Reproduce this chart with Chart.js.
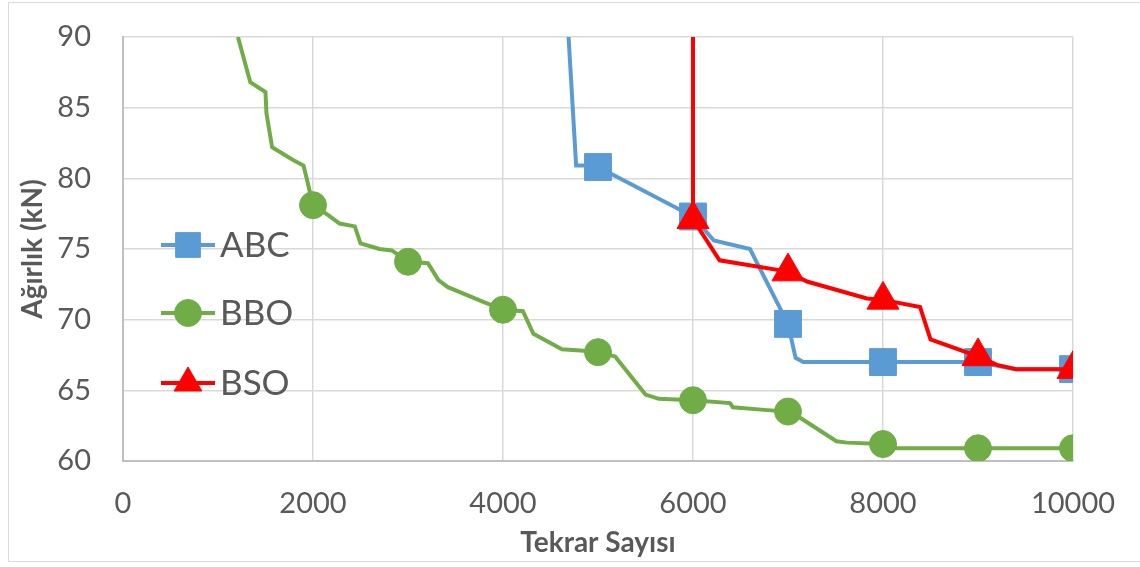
<!DOCTYPE html>
<html>
<head>
<meta charset="utf-8">
<script src="https://cdn.jsdelivr.net/npm/chart.js@4/dist/chart.umd.min.js"></script>
<style>
  body { margin: 0; background: #fff; }
  #wrap { position: relative; width: 1140px; height: 567px; }
  #frame {
    position: absolute; left: 8px; top: 2px; width: 1140px; height: 560px;
    border: 1.5px solid #d9d9d9; box-sizing: border-box; pointer-events: none;
  }
  canvas { position: absolute; left: 0; top: 0; }
</style>
</head>
<body>
<div id="wrap">
  <canvas id="chart" width="1140" height="567"></canvas>
  <div id="frame"></div>
</div>
<script>
// repetition count (x) and weight in kN (y) for each optimiser
const abcX = [4690, 4770, 4850, 5000, 6000, 6220, 6600, 7000, 7080, 7160, 8000, 9000, 9230, 9400, 10000];
const abcY = [90, 80.9, 80.9, 80.8, 77.3, 75.6, 75.0, 69.7, 67.3, 67.0, 67.0, 67.0, 66.7, 66.5, 66.5];

const bboX = [1210, 1340, 1500, 1510, 1570, 1790, 1900, 1930, 2000, 2160, 2280, 2440, 2500, 2700, 2830,
  3000, 3210, 3320, 3420, 3780, 4000, 4210, 4320, 4620, 4850, 5000, 5180, 5500, 5640, 6000,
  6390, 6420, 6780, 7000, 7140, 7510, 7620, 8000, 8140, 9000, 10000];
const bboY = [90, 86.8, 86.1, 84.6, 82.2, 81.3, 80.9, 80.1, 78.1, 77.4, 76.8, 76.6, 75.4, 75.0, 74.9,
  74.1, 74.0, 72.8, 72.3, 71.3, 70.7, 70.6, 69.0, 67.9, 67.8, 67.7, 67.4, 64.7, 64.4, 64.3,
  64.1, 63.8, 63.6, 63.5, 63.0, 61.4, 61.3, 61.2, 60.9, 60.9, 60.9];

const bsoX = [6000, 6000, 6280, 7000, 7200, 7830, 8000, 8390, 8500, 9000, 9200, 9400, 10000];
const bsoY = [90, 77.1, 74.2, 73.4, 72.7, 71.5, 71.4, 70.9, 68.6, 67.4, 66.8, 66.5, 66.5];

// markers sit on every full thousand
const markerX = [2000, 3000, 4000, 5000, 6000, 7000, 8000, 9000, 10000];

const xTicks = [0, 2000, 4000, 6000, 8000, 10000];
const yTicks = [60, 65, 70, 75, 80, 85, 90];

const seriesNames = ["ABC", "BBO", "BSO"];
const seriesColors = ["#5b9bd5", "#70ad47", "#ff0000"];

const FONT = "Lato, 'Open Sans', sans-serif";
const TEXT = "#595959";

function toPoints(xs, ys) {
  return xs.map((x, i) => ({ x, y: ys[i] }));
}

function markerRadius(xs, ys, r) {
  return (ctx) => {
    const i = ctx.dataIndex;
    if (ys[i] >= 90) return 0;
    return markerX.includes(xs[i]) ? r : 0;
  };
}

function makeSet(idx, xs, ys, style, r, order) {
  const c = seriesColors[idx];
  return {
    label: seriesNames[idx],
    data: toPoints(xs, ys),
    borderColor: c,
    backgroundColor: c,
    borderWidth: 4,
    pointStyle: style,
    pointRadius: markerRadius(xs, ys, r),
    pointHoverRadius: markerRadius(xs, ys, r),
    pointBackgroundColor: c,
    pointBorderColor: c,
    pointBorderWidth: 1,
    tension: 0,
    order,
  };
}

// legend drawn inside the plot, to the left
const insideLegend = {
  id: "insideLegend",
  afterDatasetsDraw(chart) {
    const ctx = chart.ctx;
    const rows = [
      { idx: 0, y: 245, style: "rect", r: 17.5 },
      { idx: 1, y: 313, style: "circle", r: 13.5 },
      { idx: 2, y: 383, style: "triangle", r: 16 },
    ];
    ctx.save();
    rows.forEach((row) => {
      const c = seriesColors[row.idx];
      ctx.strokeStyle = c;
      ctx.lineWidth = 4;
      ctx.beginPath();
      ctx.moveTo(161, row.y);
      ctx.lineTo(215, row.y);
      ctx.stroke();
      ctx.fillStyle = c;
      ctx.lineWidth = 1;
      Chart.helpers.drawPoint(ctx, { pointStyle: row.style, radius: row.r, rotation: 0, borderWidth: 1 }, 188, row.y);
      ctx.fillStyle = TEXT;
      ctx.font = "35px " + FONT;
      ctx.textBaseline = "middle";
      ctx.textAlign = "left";
      ctx.fillText(seriesNames[row.idx], 220, row.y + 1);
    });
    ctx.restore();
  },
};

new Chart(document.getElementById("chart"), {
  type: "line",
  data: {
    datasets: [
      makeSet(0, abcX, abcY, "rect", 19, 3),
      makeSet(1, bboX, bboY, "circle", 13.5, 2),
      makeSet(2, bsoX, bsoY, "triangle", 18.5, 1),
    ],
  },
  options: {
    responsive: false,
    animation: false,
    events: [],
    layout: { padding: { top: 37, right: 67, left: 0, bottom: 0 } },
    plugins: { legend: { display: false }, tooltip: { enabled: false } },
    scales: {
      x: {
        type: "linear",
        min: 0,
        max: 10000,
        afterFit: (s) => { s.height = 106; s.paddingLeft = 0; s.paddingRight = 0; },
        afterBuildTicks: (s) => { s.ticks = xTicks.map((v) => ({ value: v })); },
        grid: { color: "#d9d9d9", lineWidth: 1.5, drawTicks: false },
        border: { color: "#bfbfbf", width: 2 },
        ticks: { color: TEXT, font: { family: FONT, size: 29 }, padding: 25, callback: (v) => String(v) },
        title: {
          display: true,
          text: "Tekrar Sayısı",
          color: TEXT,
          font: { family: FONT, size: 28, weight: "bold" },
          padding: { top: 0, bottom: 7 },
        },
      },
      y: {
        min: 60,
        max: 90,
        afterFit: (s) => { s.width = 123; s.paddingTop = 0; s.paddingBottom = 0; },
        afterBuildTicks: (s) => { s.ticks = yTicks.map((v) => ({ value: v })); },
        grid: { color: "#d9d9d9", lineWidth: 1.5, drawTicks: false },
        border: { color: "#bfbfbf", width: 2 },
        ticks: { color: TEXT, font: { family: FONT, size: 29 }, padding: 32, callback: (v) => String(v) },
        title: {
          display: true,
          text: "Ağırlık (kN)",
          color: TEXT,
          font: { family: FONT, size: 28, weight: "bold" },
          padding: { top: 16, bottom: 0 },
        },
      },
    },
  },
  plugins: [insideLegend],
});
</script>
</body>
</html>
